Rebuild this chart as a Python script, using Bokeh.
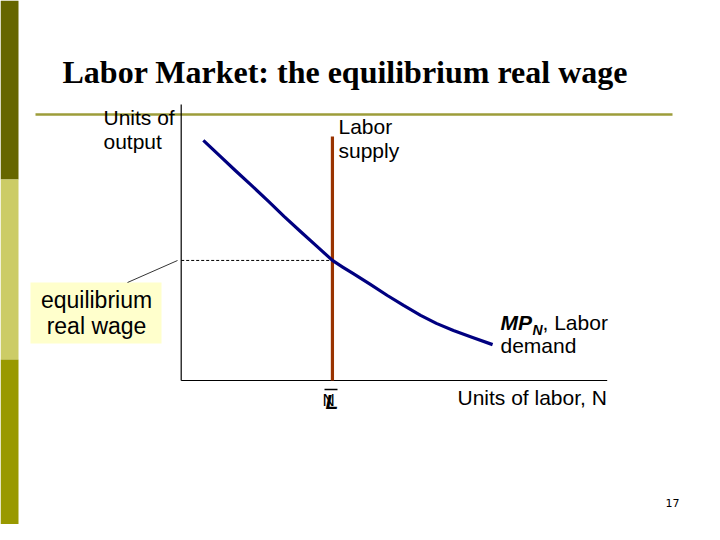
from bokeh.plotting import figure
from bokeh.models import Range1d
from bokeh.core.properties import value
from bokeh.embed import file_html
from bokeh.resources import INLINE

# ---------------- data (economic units) ----------------
title_text = "Labor Market: the equilibrium real wage"
y_label_lines = ["Units of", "output"]
x_label_text = "Units of labor, N"
supply_label_lines = ["Labor", "supply"]
demand_label_parts = ["MP", "N", ", Labor", "demand"]
callout_lines = ["equilibrium", "real wage"]
page_number = "17"

# labor demand curve (MP_N): N vs real wage
demand_N = [0.52, 0.90, 1.27, 1.65, 2.05, 2.42, 2.80, 3.18, 3.55, 3.79, 4.04,
            4.44, 4.84, 5.22, 5.62, 5.99, 6.39, 6.84, 7.31]
demand_W = [8.70, 8.15, 7.61, 7.07, 6.49, 5.94, 5.40, 4.87, 4.35, 4.11, 3.87,
            3.48, 3.08, 2.72, 2.36, 2.07, 1.81, 1.56, 1.30]
# vertical labor supply at N-bar
supply_N = [3.55, 3.55]
supply_W = [0.0, 8.84]
# equilibrium real wage
eq_N = 3.55
eq_W = 4.35
# axis extents
N_max = 10.0
W_max = 10.0

# ---------------- layout (page pixels of a 720x540 slide) ----------------
W_FIG, H_FIG = 704, 524
OFF = 0
AX_L, AX_R, AX_B, AX_T = 180.7, 606.7, 380.0, 104.0

p = figure(width=W_FIG, height=H_FIG, output_backend="svg", toolbar_location=None,
           x_range=Range1d(OFF, OFF + W_FIG), y_range=Range1d(OFF + H_FIG, OFF),
           x_axis_type=None, y_axis_type=None, min_border=0,
           background_fill_color="white", border_fill_color="white")
p.outline_line_color = None
p.grid.visible = False

# economic ranges aligned with the slide's axes
sx = (AX_R - AX_L) / N_max
sy = (AX_B - AX_T) / W_max
p.extra_x_ranges = {"econ": Range1d((OFF - AX_L) / sx, (OFF + W_FIG - AX_L) / sx)}
p.extra_y_ranges = {"econ": Range1d((AX_B - (OFF + H_FIG)) / sy, (AX_B - OFF) / sy)}
E = dict(x_range_name="econ", y_range_name="econ")


def txt(x, y, s, size, font="Liberation Sans", style="normal", align="left", color="black"):
    # y is the desired baseline on the slide; compensate renderer offset
    y_draw = y - 0.36 * size
    p.text(x=[x], y=[y_draw], text=[s], text_font=value(font),
           text_font_size=value(f"{size}px"),
           text_font_style=value(style), text_align=value(align),
           text_baseline=value("alphabetic"), text_color=color)


# slide decoration: left colour bar
p.quad(left=[0, 0, 0], right=[18, 18, 18], top=[0, 179, 359], bottom=[179, 359, 540],
       fill_color=["#666600", "#CCCC66", "#999900"], line_color=None)

# title and rule
txt(62, 83, title_text, 32, font="Liberation Serif", style="bold")
p.segment(x0=[35], y0=[114], x1=[672], y1=[114], line_color="#9d9d3a", line_width=2.5)

# axes
p.segment(x0=[0, 0], y0=[0, 0], x1=[0, N_max], y1=[W_max, 0], line_color="black",
          line_width=1.2, **E)

# dashed equilibrium wage line
p.segment(x0=[0], y0=[eq_W], x1=[eq_N], y1=[eq_W], line_color="black", line_width=1,
          line_dash="3 2", **E)

# labor supply
p.line(supply_N, supply_W, line_color="#993300", line_width=3.2, **E)

# labor demand
p.line(demand_N, demand_W, line_color="#000080", line_width=3.2, line_join="round", **E)

# callout box with leader
p.quad(left=[30], right=[161], top=[282], bottom=[343], fill_color="#FFFFCC",
       line_color=None)
p.segment(x0=[127], y0=[282], x1=[177], y1=[260], line_color="black", line_width=0.8)
txt(96, 308, callout_lines[0], 23, align="center")
txt(96, 334, callout_lines[1], 23, align="center")

# axis labels
txt(103, 125, y_label_lines[0], 21)
txt(103, 149, y_label_lines[1], 21)
txt(457, 405, x_label_text, 21)

# supply label
txt(338, 134, supply_label_lines[0], 21)
txt(338, 158, supply_label_lines[1], 21)

# demand label
txt(500, 330, demand_label_parts[0], 21, style="bold italic")
txt(532, 335, demand_label_parts[1], 14, style="bold italic")
txt(542, 330, demand_label_parts[2], 21)
txt(500, 353, demand_label_parts[3], 21)

# N-bar label under the axis
p.segment(x0=[324], y0=[389], x1=[337], y1=[389], line_color="black", line_width=1.5)
txt(322, 406, "N", 17)
txt(325, 409, "L", 21, style="bold italic")

# page number
txt(665, 506, page_number, 11, font="DejaVu Sans")

open("out.html", "w").write(file_html(p, INLINE))
